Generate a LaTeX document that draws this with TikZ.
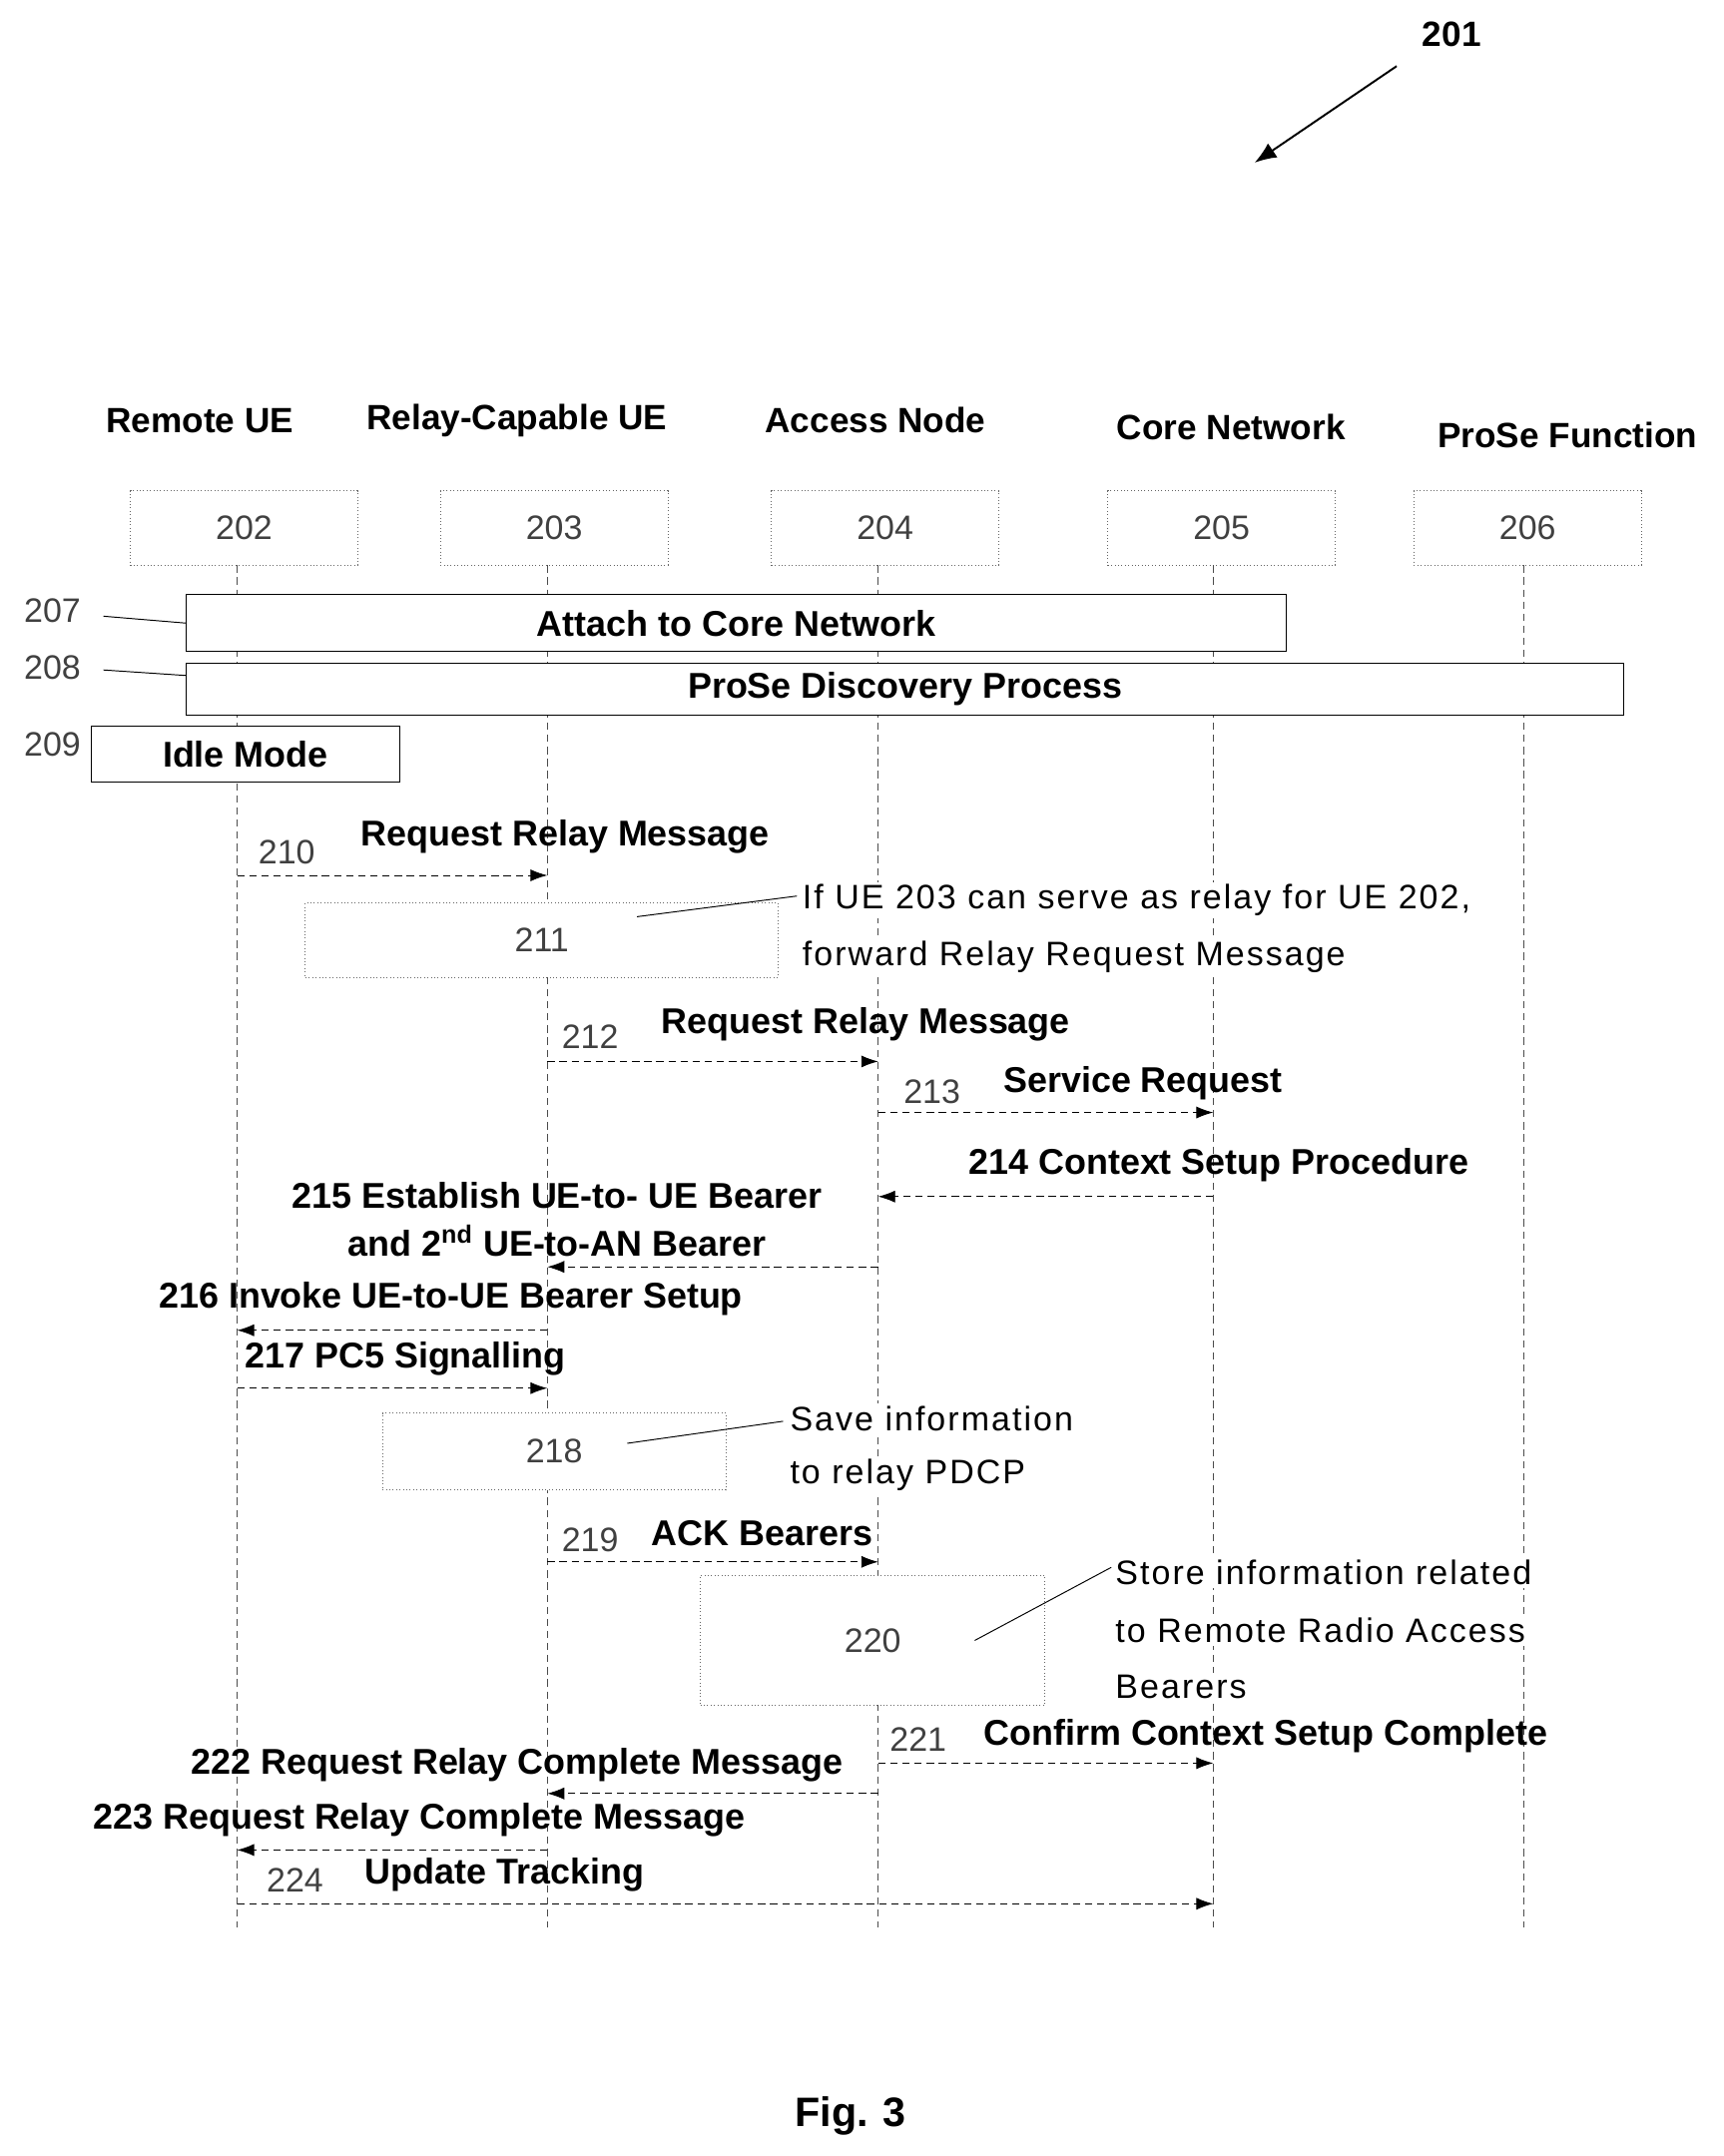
\documentclass[tikz,border=0pt]{standalone}
\usepackage{fontspec}
\setmainfont{Liberation Sans}
\usetikzlibrary{arrows.meta}
\begin{document}
\begin{tikzpicture}[x=0.02cm,y=-0.02cm,
 hdr/.style={font=\fontsize{14.5}{16}\selectfont\bfseries},
 lbl/.style={font=\fontsize{14.8}{16}\selectfont\bfseries,inner sep=1pt},
 num/.style={font=\fontsize{14}{16}\selectfont,text=black!75,inner sep=1pt},
 ann/.style={font=\fontsize{14}{16}\selectfont\addfontfeatures{LetterSpace=6},fill=white,inner sep=1pt,anchor=west},
 head/.style={draw=black!60,densely dotted,minimum width=3.3cm,minimum height=1.08cm,font=\fontsize{14}{16}\selectfont,text=black!75},
 life/.style={densely dashed,black!70,thin},
 msg/.style={densely dashed,thin,-{Latex[length=7pt,width=5pt]}},
 box/.style={draw,thin},
 dbox/.style={draw=black!60,densely dotted}]
\useasboundingbox (0,0) rectangle (1250,1564);
% heads
\node[hdr] at (145,305) {Remote UE};
\node[hdr] at (375,305) {Relay-Capable UE};
\node[hdr] at (635,305) {Access Node};
\node[hdr] at (893,310) {Core Network};
\node[hdr] at (1137,316) {ProSe Function};
\node[head] (h202) at (177,383) {202};
\node[head] (h203) at (402,383) {203};
\node[head] (h204) at (642,383) {204};
\node[head] (h205) at (886,383) {205};
\node[head] (h206) at (1108,383) {206};
% lifelines
\draw[life] (172,410) -- (172,1398);
\draw[life] (397,410) -- (397,1398);
\draw[life] (637,410) -- (637,1398);
\draw[life] (880,410) -- (880,1398);
\draw[life] (1105,410) -- (1105,1398);
% 201
\node[hdr] (n201) at (1053,25) {201};
\draw[-{Latex[length=9pt,width=7pt]},thick] (1013,48) -- (910,118);
% boxes
\node[box,fill=white,minimum width=15.96cm,minimum height=0.82cm,lbl,inner sep=0pt] (b207) at (534,452) {Attach to Core Network};
\node[box,fill=white,minimum width=20.86cm,minimum height=0.76cm,lbl,inner sep=0pt] (b208) at (656.5,500) {ProSe Discovery Process};
\node[box,fill=white,minimum width=4.48cm,minimum height=0.82cm,lbl,inner sep=0pt] (b209) at (178,547) {Idle Mode};
\node[num] (l207) at (38,443) {207};
\node[num] (l208) at (38,484) {208};
\node[num] (l209) at (38,540) {209};
\draw (75,447) -- (b207.west |- 0,452);
\draw (75,486) -- (b208.west |- 0,490);
% 210
\draw[msg] (172,635) -- (397,635);
\node[num] at (208,618) {210};
\node[lbl] at (410,607) {Request Relay Message};
% 211
\node[dbox,fill=white,minimum width=6.86cm,minimum height=1.08cm,num] (b211) at (393,682) {211};
\draw (462,665) -- (578,650);
\node[ann] at (580,653) {If UE 203 can serve as relay for UE 202,};
\node[ann] at (580,694) {forward Relay Request Message};
% 212
\draw[msg] (397,770) -- (637,770);
\node[num] at (428,752) {212};
\node[lbl] at (628,743) {Request Relay Message};
% 213
\draw[msg] (637,807) -- (880,807);
\node[num] at (676,792) {213};
\node[lbl] at (829,786) {Service Request};
% 214
\draw[msg] (880,868) -- (637,868);
\node[lbl] at (884,845) {214 Context Setup Procedure};
% 215
\draw[msg] (637,919) -- (397,919);
\node[lbl] at (404,867) {215 Establish UE-to- UE Bearer};
\node[lbl] at (404,900) {and 2\textsuperscript{nd} UE-to-AN Bearer};
% 216
\draw[msg] (397,965) -- (172,965);
\node[lbl] at (327,942) {216 Invoke UE-to-UE Bearer Setup};
% 217
\draw[msg] (172,1007) -- (397,1007);
\node[lbl] at (294,986) {217 PC5 Signalling};
% 218
\node[dbox,fill=white,minimum width=4.98cm,minimum height=1.12cm,num] (b218) at (402,1053) {218};
\draw (455,1047) -- (568,1031);
\node[ann] at (571,1029) {Save information};
\node[ann] at (571,1070) {to relay PDCP};
% 219
\draw[msg] (397,1133) -- (637,1133);
\node[num] at (428,1117) {219};
\node[lbl] at (553,1112) {ACK Bearers};
% 220
\node[dbox,fill=white,minimum width=5cm,minimum height=1.88cm,num] (b220) at (633,1190) {220};
\draw (707,1190) -- (806,1137);
\node[ann] at (807,1141) {Store information related};
\node[ann] at (807,1183) {to Remote Radio Access};
\node[ann] at (807,1224) {Bearers};
% 221
\draw[msg] (637,1279) -- (880,1279);
\node[num] at (666,1262) {221};
\node[lbl] at (918,1259) {Confirm Context Setup Complete};
% 222
\draw[msg] (637,1301) -- (397,1301);
\node[lbl] at (375,1280) {222 Request Relay Complete Message};
% 223
\draw[msg] (397,1342) -- (172,1342);
\node[lbl] at (304,1320) {223 Request Relay Complete Message};
% 224
\draw[msg] (172,1381) -- (880,1381);
\node[num] at (214,1364) {224};
\node[lbl] at (366,1360) {Update Tracking};
\node[font=\fontsize{17}{20}\selectfont\bfseries] (fig) at (617,1535) {Fig. 3};
\end{tikzpicture}
\end{document}
